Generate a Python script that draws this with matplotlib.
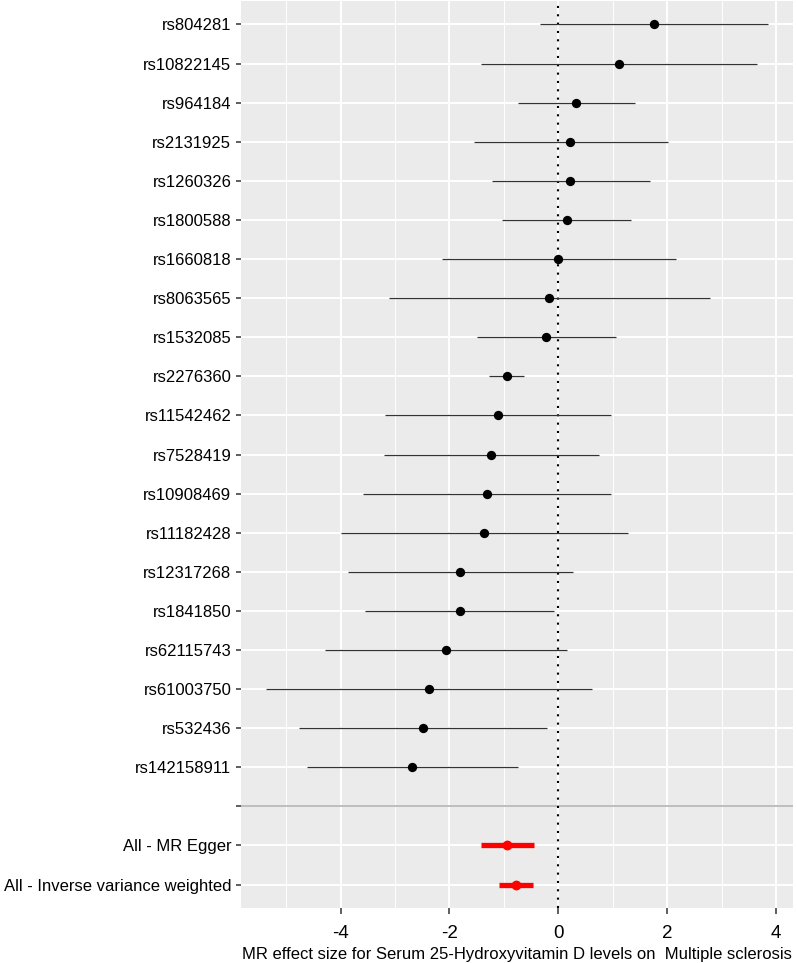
import numpy as np
import matplotlib
matplotlib.use("Agg")
import matplotlib.pyplot as plt

plt.rcParams['font.family'] = ['Liberation Sans', 'DejaVu Sans']

snps = ["rs804281", "rs10822145", "rs964184", "rs2131925", "rs1260326",
        "rs1800588", "rs1660818", "rs8063565", "rs1532085", "rs2276360",
        "rs11542462", "rs7528419", "rs10908469", "rs11182428", "rs12317268",
        "rs1841850", "rs62115743", "rs61003750", "rs532436", "rs142158911"]
snp_b = [1.76, 1.11, 0.33, 0.22, 0.21, 0.15, 0.00, -0.17, -0.23, -0.94,
         -1.10, -1.23, -1.32, -1.36, -1.80, -1.81, -2.06, -2.38, -2.49, -2.68]
snp_lo = [-0.34, -1.43, -0.75, -1.55, -1.22, -1.03, -2.14, -3.11, -1.50, -1.27,
          -3.18, -3.21, -3.59, -3.99, -3.87, -3.55, -4.28, -5.37, -4.76, -4.62]
snp_hi = [3.85, 3.65, 1.40, 2.01, 1.68, 1.34, 2.16, 2.79, 1.05, -0.64,
          0.97, 0.74, 0.97, 1.27, 0.26, -0.08, 0.16, 0.62, -0.20, -0.75]

methods = ["All - MR Egger", "All - Inverse variance weighted"]
meth_b = [-0.94, -0.78]
meth_lo = [-1.42, -1.09]
meth_hi = [-0.45, -0.47]

xlabel = "MR effect size for Serum 25-Hydroxyvitamin D levels on  Multiple sclerosis"

fig = plt.figure(figsize=(7.97, 9.63), dpi=100)
ax = fig.add_axes([241/797, 1 - 908/963, (793-241)/797, (908-1)/963])
ax.set_facecolor("#EBEBEB")

n = len(snps)
y_snp = np.arange(n)
y_sep = n
y_meth = np.arange(len(methods)) + n + 1

# grid
for x in [-5, -3, -1, 1, 3]:
    ax.axvline(x, color="white", lw=0.7, zorder=0)
for x in [-4, -2, 0, 2, 4]:
    ax.axvline(x, color="white", lw=1.4, zorder=0)
for y in list(y_snp) + [y_sep] + list(y_meth):
    ax.axhline(y, color="white", lw=1.4, zorder=0)

ax.axhline(y_sep, color="#BEBEBE", lw=1.4, zorder=1)
ax.axvline(0, color="black", lw=1.5, ls=(0, (1, 3)), zorder=2)

ax.hlines(y_snp, snp_lo, snp_hi, color="#333333", lw=0.9, zorder=3)
ax.scatter(snp_b, y_snp, s=45, color="black", zorder=4, linewidths=0)
ax.hlines(y_meth, meth_lo, meth_hi, color="red", lw=3.8, zorder=3)
ax.scatter(meth_b, y_meth, s=50, color="red", zorder=4, linewidths=0)

yt = list(y_snp) + [y_sep] + list(y_meth)
ax.set_yticks(yt)
ax.set_yticklabels(snps + [""] + methods, fontsize=12, color="black")
ax.set_ylim(y_meth[-1] + 0.6, -0.6)
ax.set_xlim(-5.83, 4.31)
ax.set_xticks([-4, -2, 0, 2, 4])
ax.set_xticklabels(["-4", "-2", "0", "2", "4"], fontsize=13.5, color="black")
ax.tick_params(axis="both", color="#333333", length=3.5, width=1.1)
ax.tick_params(axis="x", pad=8, length=4.5)
ax.set_xlabel(xlabel, fontsize=12, labelpad=3)

for s in ax.spines.values():
    s.set_visible(False)

fig.savefig("out.png", dpi=100)
